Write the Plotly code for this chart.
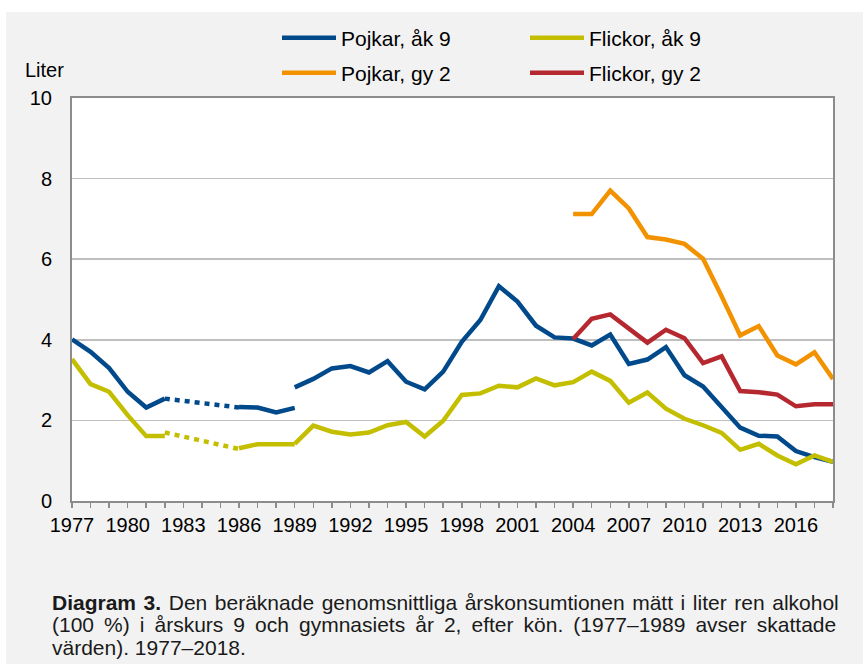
import plotly.graph_objects as go

# ---------------- data ----------------
years_est = list(range(1977, 1990))
pojkar_ak9_est = [4.01, 3.70, 3.30, 2.71, 2.32, 2.54, None, None, None, 2.33, 2.32, 2.20, 2.31]
flickor_ak9_est = [3.52, 2.90, 2.71, 2.13, 1.61, 1.61, None, None, None, 1.31, 1.41, 1.41, 1.41]

gap_years = [1982, 1986]
pojkar_ak9_gap = [2.54, 2.32]
flickor_ak9_gap = [1.70, 1.29]

years = list(range(1989, 2019))
pojkar_ak9 = [2.82, 3.03, 3.29, 3.35, 3.19, 3.47, 2.96, 2.77, 3.21, 3.95,
              4.49, 5.33, 4.95, 4.35, 4.06, 4.03, 3.86, 4.13, 3.40, 3.51,
              3.82, 3.12, 2.84, 2.31, 1.82, 1.62, 1.60, 1.24, 1.09, 0.97]
flickor_ak9 = [1.42, 1.87, 1.72, 1.65, 1.70, 1.88, 1.96, 1.60, 1.99, 2.63,
               2.67, 2.86, 2.82, 3.04, 2.87, 2.95, 3.21, 2.98, 2.44, 2.69,
               2.29, 2.04, 1.88, 1.69, 1.27, 1.42, 1.13, 0.91, 1.13, 0.97]

years_gy = list(range(2004, 2019))
pojkar_gy2 = [7.12, 7.12, 7.70, 7.26, 6.55, 6.49, 6.38, 6.01, 5.08, 4.11,
              4.34, 3.61, 3.39, 3.69, 3.03]
flickor_gy2 = [4.02, 4.52, 4.63, 4.27, 3.93, 4.25, 4.04, 3.42, 3.59, 2.73,
               2.70, 2.64, 2.35, 2.40, 2.40]

names = ["Pojkar, åk 9", "Flickor, åk 9", "Pojkar, gy 2", "Flickor, gy 2"]
x_tick_vals = list(range(1977, 2019, 3))
y_tick_vals = [0, 2, 4, 6, 8, 10]
caption_lines = [
    "<b>Diagram 3.</b> Den beräknade genomsnittliga årskonsumtionen mätt i liter ren alkohol",
    "(100 %) i årskurs 9 och gymnasiets år 2, efter kön. (1977–1989 avser skattade",
    "värden). 1977–2018.",
]
# extra word spacing to imitate the justified caption
caption_pad = ["\u200a", "\u2009", ""]

# ---------------- style ----------------
BLUE = "#004a8c"
YELLOW = "#c3bf00"
ORANGE = "#f39200"
RED = "#b5282f"
LW = 4.5
FONT = "Liberation Sans, Arial, sans-serif"

W, H = 863, 668
L, R, T, B = 72, 30, 98, 167
PW, PH = W - L - R, H - T - B


def px_x(x):
    return (x - L) / PW


def px_y(y):
    return (H - B - y) / PH


fig = go.Figure()

# Pojkar åk 9
fig.add_trace(go.Scatter(x=years_est, y=pojkar_ak9_est, mode="lines",
                         line=dict(color=BLUE, width=LW), showlegend=False,
                         connectgaps=False, hoverinfo="skip"))
fig.add_trace(go.Scatter(x=gap_years, y=pojkar_ak9_gap, mode="lines",
                         line=dict(color=BLUE, width=LW, dash="5px,5px"),
                         showlegend=False, hoverinfo="skip"))
fig.add_trace(go.Scatter(x=years, y=pojkar_ak9, mode="lines", name=names[0],
                         line=dict(color=BLUE, width=LW), legend="legend",
                         legendrank=1))
# Flickor åk 9
fig.add_trace(go.Scatter(x=years_est, y=flickor_ak9_est, mode="lines",
                         line=dict(color=YELLOW, width=LW), showlegend=False,
                         connectgaps=False, hoverinfo="skip"))
fig.add_trace(go.Scatter(x=gap_years, y=flickor_ak9_gap, mode="lines",
                         line=dict(color=YELLOW, width=LW, dash="5px,5px"),
                         showlegend=False, hoverinfo="skip"))
fig.add_trace(go.Scatter(x=years, y=flickor_ak9, mode="lines", name=names[1],
                         line=dict(color=YELLOW, width=LW), legend="legend",
                         legendrank=2))
# gy 2
fig.add_trace(go.Scatter(x=years_gy, y=pojkar_gy2, mode="lines", name=names[2],
                         line=dict(color=ORANGE, width=LW), legend="legend2",
                         legendrank=1))
fig.add_trace(go.Scatter(x=years_gy, y=flickor_gy2, mode="lines", name=names[3],
                         line=dict(color=RED, width=LW), legend="legend2",
                         legendrank=2))

legend_common = dict(
    orientation="h", xanchor="left", yanchor="middle",
    x=px_x(277), font=dict(family=FONT, size=21, color="#000000"),
    bgcolor="rgba(0,0,0,0)", itemwidth=54, entrywidth=179,
    entrywidthmode="pixels", itemclick=False, itemdoubleclick=False,
    tracegroupgap=0,
)

annotations = [
    dict(text="Liter", x=px_x(44), y=px_y(70), xref="paper", yref="paper",
         xanchor="center", yanchor="middle", showarrow=False,
         font=dict(family=FONT, size=20, color="#000000")),
]
for line, pad, yy in zip(caption_lines, caption_pad, [602, 624, 647]):
    annotations.append(dict(
        text=line.replace(" ", " " + pad) if pad else line,
        x=px_x(50), y=px_y(yy), xref="paper", yref="paper",
        xanchor="left", yanchor="middle", showarrow=False, align="left",
        font=dict(family=FONT, size=21, color="#1a1a1a")))

shapes = [
    # white strips around the grey panel
    dict(type="rect", xref="paper", yref="paper", x0=px_x(0), x1=px_x(W),
         y0=px_y(0), y1=px_y(12), fillcolor="#ffffff", line=dict(width=0),
         layer="below"),
    dict(type="rect", xref="paper", yref="paper", x0=px_x(0), x1=px_x(6),
         y0=px_y(0), y1=px_y(H), fillcolor="#ffffff", line=dict(width=0),
         layer="below"),
    dict(type="rect", xref="paper", yref="paper", x0=px_x(0), x1=px_x(W),
         y0=px_y(664), y1=px_y(H), fillcolor="#ffffff", line=dict(width=0),
         layer="below"),
]

fig.update_layout(
    width=W, height=H,
    margin=dict(l=L, r=R, t=T, b=B, autoexpand=False),
    paper_bgcolor="#f2f2f2", plot_bgcolor="#ffffff",
    font=dict(family=FONT, size=20, color="#000000"),
    legend=dict(y=px_y(38), **legend_common),
    legend2=dict(y=px_y(73), **legend_common),
    annotations=annotations,
    shapes=shapes,
    hovermode=False,
)

fig.update_xaxes(
    range=[1977, 2018], tickmode="array", tickvals=x_tick_vals,
    ticktext=[str(v) for v in x_tick_vals],
    ticks="outside", ticklen=5, tickwidth=1.5, tickcolor="#8c8c8c",
    showgrid=False, zeroline=False,
    showline=True, linecolor="#8c8c8c", linewidth=2, mirror=True,
    tickfont=dict(family=FONT, size=20, color="#000000"),
    minor=dict(dtick=1, tick0=1977, ticks="outside", ticklen=5,
               tickwidth=1.5, tickcolor="#8c8c8c", showgrid=False),
    fixedrange=True,
)
fig.update_yaxes(
    range=[0, 10], tickmode="array", tickvals=y_tick_vals,
    ticks="", showgrid=True, gridcolor="#bfbfbf", gridwidth=1.5,
    zeroline=False, showline=True, linecolor="#8c8c8c", linewidth=2,
    mirror=True, ticklabelstandoff=14,
    tickfont=dict(family=FONT, size=20, color="#000000"),
    fixedrange=True,
)

fig.write_html(
    "out.html",
    config={"displayModeBar": False, "staticPlot": True},
    post_script="document.body.style.margin='0';document.body.style.overflow='hidden';",
)
